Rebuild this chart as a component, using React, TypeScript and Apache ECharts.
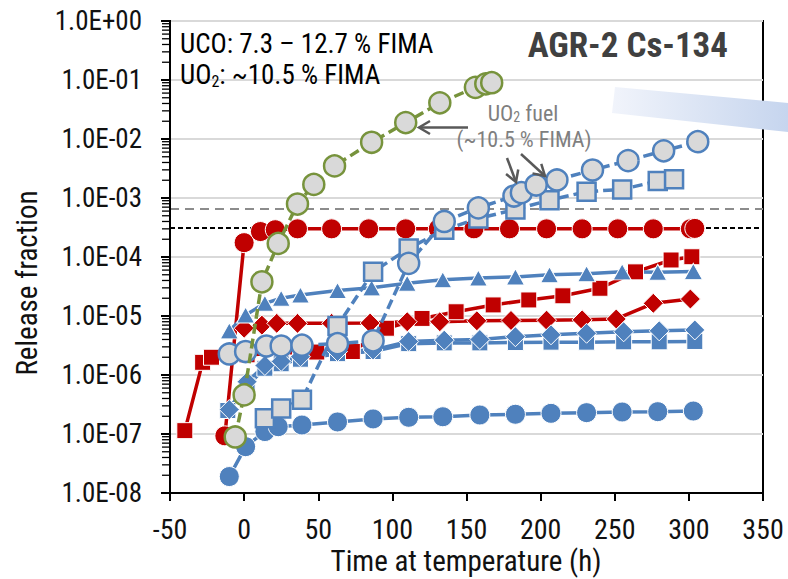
import React, { useEffect, useRef } from "react";
import * as echarts from "echarts";

const FONT = '"Liberation Sans Narrow", "Roboto Condensed", "Liberation Sans", sans-serif';

// ---- data (time at temperature in h, release fraction) ----
const xTicks = [-50, 0, 50, 100, 150, 200, 250, 300, 350];

const redCircleT = [-13, 0, 11, 21, 36, 59, 84, 109, 131, 155, 179, 204, 228, 252, 276, 301, 304];
const redCircleV = [9.3e-8, 1.75e-4, 2.7e-4, 2.9e-4, 3.0e-4, 3.0e-4, 3.0e-4, 3.0e-4, 3.0e-4, 3.0e-4, 3.0e-4, 3.0e-4, 3.0e-4, 3.0e-4, 3.0e-4, 3.0e-4, 3.05e-4];

const redSquareT = [-40, -28, -22, 2, 25, 49, 73, 96, 120, 143, 168, 192, 215, 240, 264, 288, 302];
const redSquareV = [1.14e-7, 1.64e-6, 2.0e-6, 2.2e-6, 2.35e-6, 2.45e-6, 2.5e-6, 6.2e-6, 9.1e-6, 1.18e-5, 1.54e-5, 1.87e-5, 2.2e-5, 2.95e-5, 5.6e-5, 8.9e-5, 1.01e-4];

const redDiamondT = [0, 12, 22, 36, 59, 85, 110, 132, 157, 180, 204, 228, 251, 276, 301];
const redDiamondV = [6.2e-6, 7.0e-6, 7.5e-6, 7.5e-6, 7.5e-6, 7.6e-6, 8.0e-6, 8.0e-6, 8.3e-6, 8.4e-6, 8.5e-6, 8.6e-6, 8.9e-6, 1.64e-5, 1.94e-5];

const blueCircleT = [-10, 1, 14, 23, 39, 63, 87, 111, 134, 159, 183, 207, 231, 255, 279, 303];
const blueCircleV = [1.9e-8, 6.1e-8, 1.1e-7, 1.33e-7, 1.42e-7, 1.6e-7, 1.8e-7, 1.92e-7, 1.96e-7, 2.1e-7, 2.16e-7, 2.24e-7, 2.3e-7, 2.36e-7, 2.39e-7, 2.45e-7];

const blueSquareT = [-11, 2, 14, 25, 38, 63, 87, 111, 135, 159, 183, 207, 231, 256, 280, 304];
const blueSquareV = [2.5e-7, 6.5e-7, 1.3e-6, 1.55e-6, 1.85e-6, 2.3e-6, 2.5e-6, 3.4e-6, 3.5e-6, 3.5e-6, 3.55e-6, 3.6e-6, 3.6e-6, 3.65e-6, 3.65e-6, 3.7e-6];

const blueDiamondT = [-10, 2, 14, 25, 38, 63, 87, 111, 135, 159, 183, 207, 231, 256, 280, 304];
const blueDiamondV = [2.6e-7, 7.7e-7, 1.45e-6, 1.7e-6, 2.04e-6, 2.5e-6, 2.65e-6, 3.7e-6, 3.9e-6, 4.0e-6, 4.46e-6, 4.8e-6, 5.1e-6, 5.4e-6, 5.6e-6, 5.8e-6];

const blueTriangleT = [-10, 1, 14, 25, 38, 63, 86, 110, 134, 158, 183, 206, 231, 255, 279, 303];
const blueTriangleV = [5.6e-6, 1.04e-5, 1.64e-5, 2.0e-5, 2.27e-5, 2.7e-5, 3.0e-5, 3.6e-5, 4.1e-5, 4.4e-5, 4.6e-5, 5.0e-5, 5.2e-5, 5.6e-5, 5.5e-5, 5.7e-5];

const uo2CircleT = [-10, 1, 15, 25, 39, 63, 87, 111, 135, 158, 182, 187, 197, 211, 235, 259, 283, 306];
const uo2CircleV = [2.27e-6, 2.5e-6, 3.1e-6, 3.1e-6, 3.2e-6, 3.4e-6, 3.8e-6, 7.8e-5, 4.0e-4, 6.8e-4, 1.08e-3, 1.23e-3, 1.66e-3, 2.02e-3, 2.98e-3, 4.3e-3, 6.3e-3, 9.0e-3];

const uo2SquareT = [14, 25, 39, 63, 87, 111, 135, 158, 183, 206, 231, 255, 279, 290];
const uo2SquareV = [1.85e-7, 2.7e-7, 3.8e-7, 6.8e-6, 5.6e-5, 1.4e-4, 2.9e-4, 4.5e-4, 6.4e-4, 9.2e-4, 1.28e-3, 1.4e-3, 1.94e-3, 2.07e-3];

const greenT = [-6, 0, 12, 23, 36, 47, 61, 86, 109, 132, 156, 163, 167];
const greenV = [8.9e-8, 4.6e-7, 3.8e-5, 1.7e-4, 7.9e-4, 1.7e-3, 3.5e-3, 8.8e-3, 1.9e-2, 4.1e-2, 7.5e-2, 8.6e-2, 9.0e-2];

const greyLimit = 6.5e-4;
const blackLimit = 3.1e-4;

const RED = "#c00000";
const BLUE = "#4f81bd";
const GREEN = "#77933c";
const FILL = "#d9d9d9";

const pairs = (t: number[], v: number[]) => t.map((x, i) => [x, v[i]]);

function solid(name: string, t: number[], v: number[], color: string, symbol: string, size: any, z: number) {
  return {
    name, type: "line", data: pairs(t, v), symbol, symbolSize: size, z,
    lineStyle: { color, width: 3.5 },
    itemStyle: { color, borderColor: "#fff", borderWidth: 1 },
    emphasis: { disabled: true }, silent: true,
  };
}
function dashed(name: string, t: number[], v: number[], color: string, symbol: string, size: any, z: number) {
  return {
    name, type: "line", data: pairs(t, v), symbol, symbolSize: size, z,
    lineStyle: { color, width: 3.5, type: [10, 5] },
    itemStyle: { color: FILL, borderColor: color, borderWidth: 2.5 },
    emphasis: { disabled: true }, silent: true,
  };
}

function arrow(x1: number, y1: number, x2: number, y2: number, color: string) {
  const dx = x2 - x1, dy = y2 - y1;
  const len = Math.hypot(dx, dy);
  const ux = dx / len, uy = dy / len;
  const px = -uy, py = ux;
  const bx = x2 - ux * 11, by = y2 - uy * 11;
  return [
    { type: "line", shape: { x1, y1, x2, y2 }, style: { stroke: color, lineWidth: 2.5 }, z: 50 },
    { type: "polyline", shape: { points: [[bx + px * 6.5, by + py * 6.5], [x2, y2], [bx - px * 6.5, by - py * 6.5]] }, style: { stroke: color, lineWidth: 2.5, fill: null }, z: 50 },
  ];
}

const minorTicks: number[] = [];
for (let d = -8; d < 0; d++) for (let k = 2; k <= 9; k++) minorTicks.push(k * Math.pow(10, d));

const fmtExp = (v: number) => {
  const e = Math.round(Math.log10(v));
  return `1.0E${e < 0 ? "-" : "+"}${String(Math.abs(e)).padStart(2, "0")}`;
};

const GRID = { left: 170, top: 21, right: 25, bottom: 86 };

export default function App() {
  const ref = useRef<HTMLDivElement>(null);
  useEffect(() => {
    const chart = echarts.init(ref.current!, null, { renderer: "svg" });
    const graphic: any[] = [
      { type: "text", x: 180, y: 44, z: 40, style: { text: "UCO: 7.3 – 12.7 % FIMA", fontFamily: FONT, fontSize: 27, fill: "#000", align: "left", verticalAlign: "middle", textAlign: "left", textVerticalAlign: "middle" } },
      { type: "text", x: 180, y: 75, z: 40, style: { text: "UO{s|2}: ~10.5 % FIMA", rich: { s: { fontSize: 16, fontFamily: FONT, padding: [12, 0, 0, 0], fill: "#000" } }, fontFamily: FONT, fontSize: 27, fill: "#000", align: "left", verticalAlign: "middle", textAlign: "left", textVerticalAlign: "middle" } },
      { type: "text", x: 728, y: 45, z: 40, style: { text: "AGR-2 Cs-134", fontFamily: FONT, fontSize: 35, fontWeight: "bold", fill: "#404040", align: "right", verticalAlign: "middle", textAlign: "right", textVerticalAlign: "middle" } },
      { type: "text", x: 523, y: 113, z: 40, style: { text: "UO{s|2} fuel", rich: { s: { fontSize: 14, fontFamily: FONT, padding: [7, 0, 0, 0], fill: "#7f7f7f" } }, fontFamily: FONT, fontSize: 22, fill: "#7f7f7f", align: "center", verticalAlign: "middle", textAlign: "center", textVerticalAlign: "middle" } },
      { type: "text", x: 524, y: 139, z: 40, style: { text: "(~10.5 % FIMA)", fontFamily: FONT, fontSize: 22, fill: "#7f7f7f", align: "center", verticalAlign: "middle", textAlign: "center", textVerticalAlign: "middle" } },
      ...arrow(468, 127.5, 419, 127.5, "#595959"),
      ...arrow(507, 158, 516, 182, "#595959"),
      ...arrow(521, 154, 545, 176, "#595959"),
      {
        type: "polygon", z: 60,
        shape: { points: [[615, 87], [788, 103], [788, 132], [612, 113]] },
        style: { fill: new echarts.graphic.LinearGradient(0, 0, 1, 0, [{ offset: 0, color: "#f1f4fb" }, { offset: 1, color: "#c6d5ee" }]) },
      },
      { type: "text", x: 27, y: 283, rotation: Math.PI / 2, z: 40, style: { text: "Release fraction", fontFamily: FONT, fontSize: 29, fill: "#111", align: "center", verticalAlign: "middle", textAlign: "center", textVerticalAlign: "middle" } },
      { type: "text", x: 466, y: 561, z: 40, style: { text: "Time at temperature (h)", fontFamily: FONT, fontSize: 29, fill: "#111", align: "center", verticalAlign: "middle", textAlign: "center", textVerticalAlign: "middle" } },
    ];
    const option: any = {
      animation: false,
      backgroundColor: "#fff",
      grid: { ...GRID, show: true, borderColor: "#000", borderWidth: 2, containLabel: false },
      xAxis: {
        type: "value", min: xTicks[0], max: xTicks[xTicks.length - 1], interval: 50,
        axisLine: { show: true, onZero: false, lineStyle: { color: "#000", width: 2 } },
        axisTick: { show: true, inside: false, length: 8, lineStyle: { color: "#000", width: 2 } },
        splitLine: { show: false },
        axisLabel: { fontFamily: FONT, fontSize: 28, color: "#111", margin: 22 },
      },
      yAxis: {
        type: "log", logBase: 10, min: 1e-8, max: 1, splitNumber: 8,
        axisLine: { show: true, onZero: false, lineStyle: { color: "#000", width: 2 } },
        axisTick: { show: true, inside: false, length: 9, lineStyle: { color: "#000", width: 2 } },
        splitLine: { show: true, lineStyle: { color: "#d9d9d9", width: 2 } },
        axisLabel: { fontFamily: FONT, fontSize: 27, color: "#111", margin: 28, formatter: fmtExp },
      },
      series: [
        { name: "grey limit", type: "line", data: [[xTicks[0], greyLimit], [xTicks[xTicks.length - 1], greyLimit]], symbol: "none", lineStyle: { color: "#8c8c8c", width: 2, type: [9, 6] }, z: 2, silent: true },
        { name: "black limit", type: "line", data: [[xTicks[0], blackLimit], [xTicks[xTicks.length - 1], blackLimit]], symbol: "none", lineStyle: { color: "#000", width: 2, type: [5, 3] }, z: 2, silent: true },
        solid("UCO red squares", redSquareT, redSquareV, RED, "rect", 16, 3),
        solid("UCO red diamonds", redDiamondT, redDiamondV, RED, "diamond", [20, 20], 3),
        solid("UCO red circles", redCircleT, redCircleV, RED, "circle", 20, 3),
        solid("UCO blue circles", blueCircleT, blueCircleV, BLUE, "circle", 20, 3),
        solid("UCO blue squares", blueSquareT, blueSquareV, BLUE, "rect", 16, 3),
        solid("UCO blue diamonds", blueDiamondT, blueDiamondV, BLUE, "diamond", [20, 20], 3),
        solid("UCO blue triangles", blueTriangleT, blueTriangleV, BLUE, "triangle", [18, 16], 3),
        dashed("UO2 squares", uo2SquareT, uo2SquareV, BLUE, "rect", 18, 4),
        dashed("UO2 circles", uo2CircleT, uo2CircleV, BLUE, "circle", 21, 4),
        dashed("UO2 green", greenT, greenV, GREEN, "circle", 21, 5),
      ],
      graphic,
    };
    chart.setOption(option);

    // minor log ticks along the y axis, placed between the axis' own decade positions
    let yTop = chart.convertToPixel({ yAxisIndex: 0 } as any, 1) as any;
    let yBot = chart.convertToPixel({ yAxisIndex: 0 } as any, 1e-8) as any;
    let xAxisPos = chart.convertToPixel({ xAxisIndex: 0 } as any, xTicks[0]) as any;
    if (!Number.isFinite(yTop)) yTop = GRID.top;
    if (!Number.isFinite(yBot)) yBot = 579 - GRID.bottom;
    if (!Number.isFinite(xAxisPos)) xAxisPos = GRID.left;
    const extra: any[] = [
      { type: "line", z: 70, shape: { x1: xAxisPos, y1: yTop - 1, x2: xAxisPos, y2: yBot + 1 }, style: { stroke: "#000", lineWidth: 2 } },
    ];
    minorTicks.forEach((v) => {
      const frac = -Math.log10(v) / 8;
      const y = yTop + (yBot - yTop) * frac;
      extra.push({ type: "line", z: 70, shape: { x1: xAxisPos - 8, y1: y, x2: xAxisPos, y2: y }, style: { stroke: "#000", lineWidth: 1.3 } });
    });
    chart.setOption({ graphic: [...graphic, ...extra] });
    return () => chart.dispose();
  }, []);
  return <div ref={ref} style={{ position: "fixed", left: 0, top: 0, width: 788, height: 579, background: "#fff" }} />;
}
